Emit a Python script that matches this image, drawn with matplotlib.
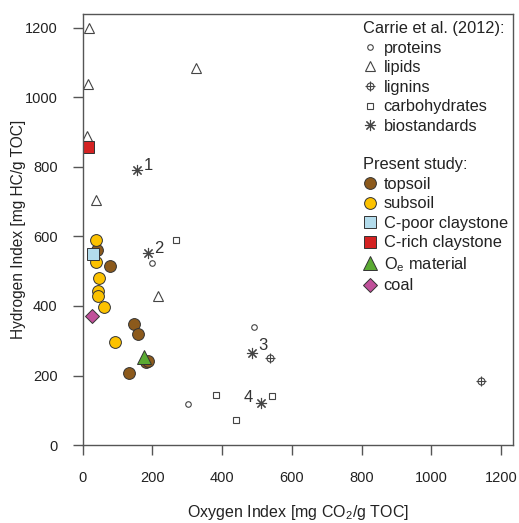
import numpy as np
import matplotlib
matplotlib.use("Agg")
import matplotlib.pyplot as plt
from matplotlib.lines import Line2D
from matplotlib.legend_handler import HandlerTuple

plt.rcParams['font.family'] = ['Liberation Sans', 'DejaVu Sans']
plt.rcParams['mathtext.fontset'] = 'custom'
plt.rcParams['mathtext.rm'] = 'Liberation Sans'
plt.rcParams['mathtext.it'] = 'Liberation Sans:italic'

# Carrie et al. (2012) reference data
proteins_oi = [200, 492, 301]
proteins_hi = [523, 340, 117]
lipids_oi = [18, 16, 11, 324, 38, 215]
lipids_hi = [1200, 1039, 889, 1085, 705, 429]
lignins_oi = [537, 1143]
lignins_hi = [249, 185]
carbo_oi = [268, 381, 440, 542]
carbo_hi = [590, 144, 72, 141]
bio_oi = [155, 186, 485, 511]
bio_hi = [791, 552, 266, 122]
bio_labels = ["1", "2", "3", "4"]

# present study
topsoil_oi = [40, 78, 147, 160, 182, 187, 133]
topsoil_hi = [561, 515, 348, 318, 240, 243, 206]
subsoil_oi = [37, 37, 47, 45, 45, 62, 93]
subsoil_hi = [590, 526, 481, 443, 430, 396, 296]
cpoor_oi = [30]
cpoor_hi = [549]
crich_oi = [14]
crich_hi = [858]
oe_oi = [176]
oe_hi = [254]
coal_oi = [28]
coal_hi = [371]

fig = plt.figure(figsize=(5.19, 5.23), dpi=100)
ax = fig.add_axes([0.1593, 0.1491, 0.8291, 0.8241])

grey = "#555555"
fs = 11.8
open_kw = dict(linestyle="none", markerfacecolor="white", markeredgecolor="#444444",
               markeredgewidth=0.8)
ax.plot(proteins_oi, proteins_hi, marker="o", markersize=4, **open_kw)
ax.plot(lipids_oi, lipids_hi, marker="^", markersize=6.5, **open_kw)
ax.plot(lignins_oi, lignins_hi, marker="o", markersize=5, **open_kw)
ax.plot(lignins_oi, lignins_hi, marker="+", markersize=7, linestyle="none",
        color="#444444", markeredgewidth=0.8)
ax.plot(carbo_oi, carbo_hi, marker="s", markersize=5, **open_kw)
ax.plot(bio_oi, bio_hi, marker=(8, 2, 0), markersize=8, linestyle="none",
        color="#444444", markeredgewidth=0.8)
offsets = [(5, 3), (5, 3), (5, 5), (-6, 4)]
for x, y, s, (dx, dy) in zip(bio_oi, bio_hi, bio_labels, offsets):
    ax.annotate(s, (x, y), xytext=(dx, dy), textcoords="offset points",
                fontsize=12, color="#333333", va="center",
                ha="left" if dx > 0 else "right")

fill_kw = dict(linestyle="none", markeredgecolor="#333333", markeredgewidth=0.7)
ax.plot(topsoil_oi, topsoil_hi, marker="o", markersize=8.5, markerfacecolor="#8c5a1c", **fill_kw)
ax.plot(subsoil_oi, subsoil_hi, marker="o", markersize=8.5, markerfacecolor="#fcc200", **fill_kw)
ax.plot(cpoor_oi, cpoor_hi, marker="s", markersize=8.5, markerfacecolor="#b3dcec", **fill_kw)
ax.plot(crich_oi, crich_hi, marker="s", markersize=8, markerfacecolor="#d42222", **fill_kw)
ax.plot(oe_oi, oe_hi, marker="^", markersize=10, markerfacecolor="#5aaa32", **fill_kw)
ax.plot(coal_oi, coal_hi, marker="D", markersize=7.5, markerfacecolor="#c0509a", **fill_kw)

ax.set_xlim(0, 1234)
ax.set_ylim(0, 1240)
ax.set_xticks(np.arange(0, 1201, 200))
ax.set_yticks(np.arange(0, 1201, 200))
for s in ax.spines.values():
    s.set_color(grey)
    s.set_linewidth(1)
ax.tick_params(direction="out", length=7, width=1, color=grey, labelsize=10.5,
               labelcolor="#222222")
ax.tick_params(axis="x", pad=12)
ax.tick_params(axis="y", pad=11)
ax.set_xlabel(r"Oxygen Index [mg CO$_2$/g TOC]", fontsize=11.5, color="#222222", labelpad=13)
ax.set_ylabel("Hydrogen Index [mg HC/g TOC]", fontsize=11.2, color="#222222", labelpad=-1)

# legends
ok = dict(linestyle="none", markerfacecolor="white", markeredgecolor="#444444", markeredgewidth=0.8)
h1 = [
    Line2D([], [], marker="o", markersize=4, **ok),
    Line2D([], [], marker="^", markersize=6.5, **ok),
    (Line2D([], [], marker="o", markersize=5, **ok),
     Line2D([], [], marker="+", markersize=7, linestyle="none", color="#444444", markeredgewidth=0.8)),
    Line2D([], [], marker="s", markersize=5, **ok),
    Line2D([], [], marker=(8, 2, 0), markersize=8, linestyle="none", color="#444444", markeredgewidth=0.8),
]
l1 = ["proteins", "lipids", "lignins", "carbohydrates", "biostandards"]
fk = dict(linestyle="none", markeredgecolor="#333333", markeredgewidth=0.7)
h2 = [
    Line2D([], [], marker="o", markersize=8.5, markerfacecolor="#8c5a1c", **fk),
    Line2D([], [], marker="o", markersize=8.5, markerfacecolor="#fcc200", **fk),
    Line2D([], [], marker="s", markersize=8.5, markerfacecolor="#b3dcec", **fk),
    Line2D([], [], marker="s", markersize=8, markerfacecolor="#d42222", **fk),
    Line2D([], [], marker="^", markersize=10, markerfacecolor="#5aaa32", **fk),
    Line2D([], [], marker="D", markersize=7.5, markerfacecolor="#c0509a", **fk),
]
l2 = ["topsoil", "subsoil", "C-poor claystone", "C-rich claystone",
      r"O$_\mathrm{e}$ material", "coal"]

leg_kw = dict(frameon=False, fontsize=fs, title_fontsize=fs, handlelength=0.8,
              handletextpad=0.45, labelspacing=0.28, borderpad=0, borderaxespad=0,
              handler_map={tuple: HandlerTuple(ndivide=1)})
leg1 = ax.legend(h1, l1, title="Carrie et al. (2012):", loc="upper left",
                 bbox_to_anchor=(0.652, 0.984), **leg_kw)
leg1._legend_box.align = "left"
ax.add_artist(leg1)
leg2 = ax.legend(h2, l2, title="Present study:", loc="upper left",
                 bbox_to_anchor=(0.652, 0.668), **leg_kw)
leg2._legend_box.align = "left"
for lg in (leg1, leg2):
    lg.get_title().set_color("#222222")
    for t in lg.get_texts():
        t.set_color("#222222")

fig.savefig("out.png", dpi=100)
